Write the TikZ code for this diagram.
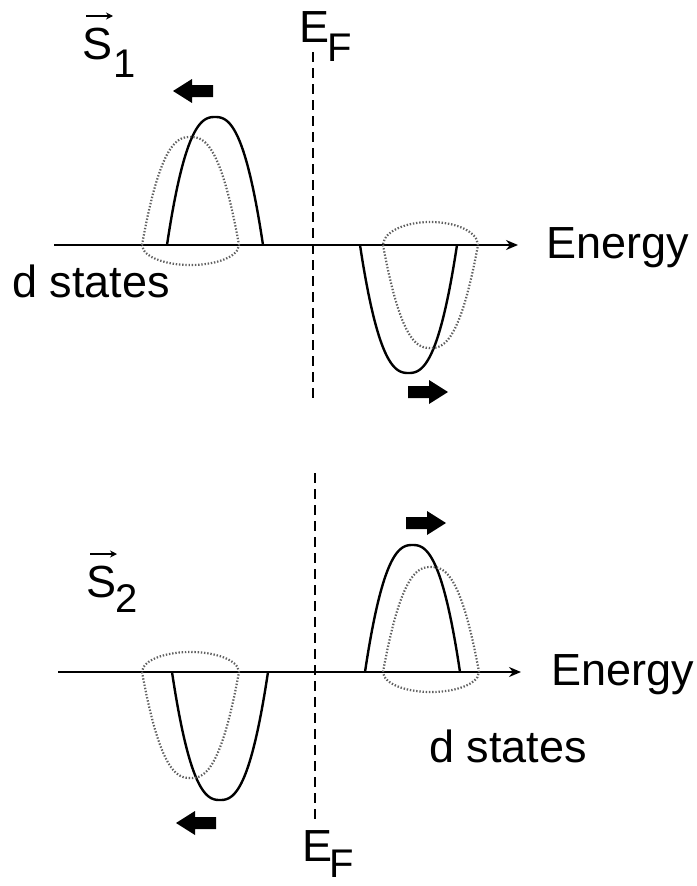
\documentclass[tikz,border=0pt]{standalone}
\usepackage{fontspec}
\setmainfont{Liberation Sans}
\usetikzlibrary{arrows.meta}
\begin{document}
\begin{tikzpicture}[x=1pt,y=-1pt,
  lbl/.style={inner sep=0pt, anchor=base west, font=\fontsize{45}{50}\selectfont},
  sub/.style={inner sep=0pt, anchor=base west, font=\fontsize{40}{44}\selectfont},
  axis/.style={line width=2pt, -{Stealth[length=12pt,width=10pt]}},
  band/.style={line width=2.4pt, line join=round},
  shifted/.style={line width=2.2pt, gray!75!black, dash pattern=on 1.4pt off 1.8pt},
  fermi/.style={line width=2pt, dash pattern=on 10pt off 6pt},
  vecarrow/.style={line width=1.4pt, -{Stealth[length=7pt,width=7pt]}},
  fatR/.pic={\fill (0,-6) -- (21,-6) -- (21,-12) -- (40,0) -- (21,12) -- (21,6) -- (0,6) -- cycle;}
]
\useasboundingbox (0,0) rectangle (696,886);

% ---------------- top panel ----------------
\coordinate (ta0) at (54,245);
\coordinate (ta1) at (518,245);
\draw[axis] (ta0) -- (ta1);
\coordinate (tf0) at (313,52);
\coordinate (tf1) at (313,402);
\draw[fermi] (tf0) -- (tf1);

\node[lbl] (ef1) at (299,42) {E};
\node[sub] (ef1s) at (327,61) {F};
\node[lbl] (s1) at (82,59) {S};
\node[sub] (s1s) at (113,77) {1};
\draw[vecarrow] (86,16) -- (113,16);
\node[lbl] (en1) at (546,258) {Energy};
\node[lbl] (ds1) at (12,297) {d states};

% solid up lobe (left)
\draw[band] plot[domain=-1:1,samples=81] ({215+48*\x},{245-128*(1-\x*\x*sqrt(abs(\x)))});
% dotted lobe (left)
\draw[shifted] plot[domain=-1:1,samples=81] ({190.5+48.5*\x},{245-108*(1-\x*\x*sqrt(abs(\x)))})
  -- plot[domain=1:-1,samples=61] ({190.5+48.5*\x},{245+20*sqrt(abs(1-\x*\x))});
% solid down lobe (right)
\draw[band] plot[domain=-1:1,samples=81] ({408.5+48.5*\x},{245+128*(1-\x*\x*sqrt(abs(\x)))});
% dotted lobe (right)
\draw[shifted] plot[domain=-1:1,samples=81] ({430.5+47.5*\x},{245+103*(1-\x*\x*sqrt(abs(\x)))})
  -- plot[domain=1:-1,samples=61] ({430.5+47.5*\x},{245-23*sqrt(abs(1-\x*\x))});

\pic[xscale=-1] at (213,91) {fatR};
\pic at (408,392) {fatR};

% ---------------- bottom panel ----------------
\coordinate (ba0) at (58,672);
\coordinate (ba1) at (521,672);
\draw[axis] (ba0) -- (ba1);
\coordinate (bf0) at (315,473);
\coordinate (bf1) at (315,820);
\draw[fermi] (bf0) -- (bf1);

\node[lbl] (ef2) at (302,861) {E};
\node[sub] (ef2s) at (329,877) {F};
\node[lbl] (s2) at (86,597) {S};
\node[sub] (s2s) at (115,612) {2};
\draw[vecarrow] (90,554) -- (117,554);
\node[lbl] (en2) at (551,685) {Energy};
\node[lbl] (ds2) at (429,762) {d states};

% solid down lobe (left)
\draw[band] plot[domain=-1:1,samples=81] ({220+48*\x},{672+128*(1-\x*\x*sqrt(abs(\x)))});
% dotted lobe (left)
\draw[shifted] plot[domain=-1:1,samples=81] ({190.5+48.5*\x},{672+106*(1-\x*\x*sqrt(abs(\x)))})
  -- plot[domain=1:-1,samples=61] ({190.5+48.5*\x},{672-20*sqrt(abs(1-\x*\x))});
% solid up lobe (right)
\draw[band] plot[domain=-1:1,samples=81] ({412.5+47.5*\x},{672-127*(1-\x*\x*sqrt(abs(\x)))});
% dotted lobe (right)
\draw[shifted] plot[domain=-1:1,samples=81] ({431+48*\x},{672-105*(1-\x*\x*sqrt(abs(\x)))})
  -- plot[domain=1:-1,samples=61] ({431+48*\x},{672+20*sqrt(abs(1-\x*\x))});

\pic[xscale=-1] at (216,823) {fatR};
\pic at (406,523) {fatR};
\end{tikzpicture}
\end{document}
